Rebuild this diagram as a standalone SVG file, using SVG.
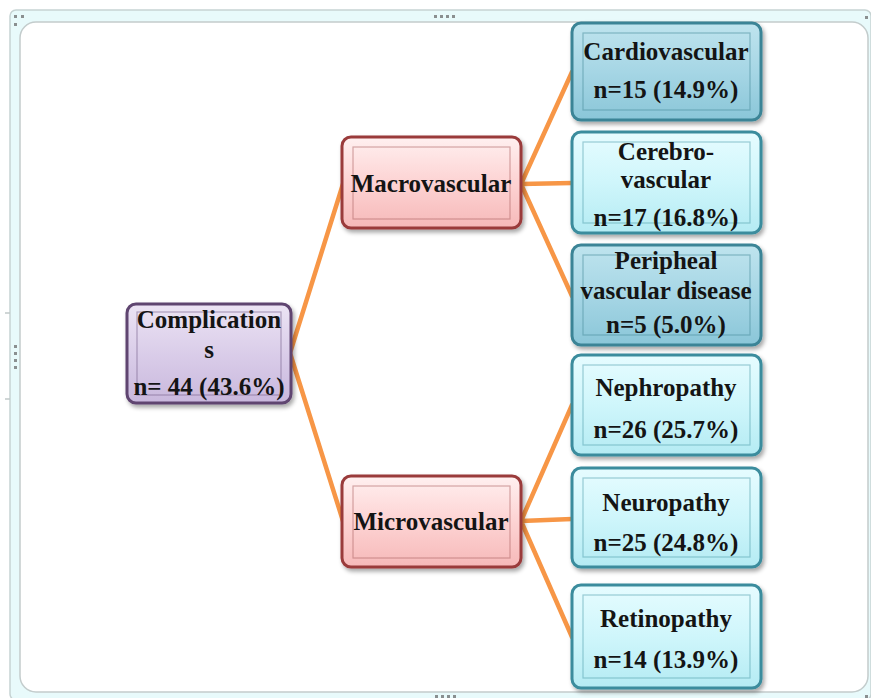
<svg xmlns="http://www.w3.org/2000/svg" width="871" height="698" viewBox="0 0 871 698">
<defs>
<linearGradient id="gPurple" x1="0" y1="0" x2="0" y2="1"><stop offset="0" stop-color="#ece4f4"/><stop offset="0.5" stop-color="#dacde9"/><stop offset="1" stop-color="#c9b8dd"/></linearGradient>
<linearGradient id="gPink" x1="0" y1="0" x2="0" y2="1"><stop offset="0" stop-color="#fff0f0"/><stop offset="0.5" stop-color="#fdd3d3"/><stop offset="1" stop-color="#f6b9b9"/></linearGradient>
<linearGradient id="gBlue" x1="0" y1="0" x2="0" y2="1"><stop offset="0" stop-color="#bfe4ee"/><stop offset="0.5" stop-color="#a6d6e5"/><stop offset="1" stop-color="#8ac6d8"/></linearGradient>
<linearGradient id="gCyan" x1="0" y1="0" x2="0" y2="1"><stop offset="0" stop-color="#e6fcff"/><stop offset="0.5" stop-color="#cff6fb"/><stop offset="1" stop-color="#b4ebf3"/></linearGradient>
<filter id="sh" x="-10%" y="-10%" width="125%" height="130%"><feDropShadow dx="2" dy="3" stdDeviation="2" flood-color="#000" flood-opacity="0.35"/></filter>
</defs>
<style>
.t{font-family:"Liberation Serif","Times New Roman",serif;font-weight:bold;font-size:25px;fill:#141414;text-anchor:middle}
.box{stroke-width:3;filter:url(#sh)}
.pur{fill:url(#gPurple);stroke:#5e4470}
.pnk{fill:url(#gPink);stroke:#9a3b3b}
.blu{fill:url(#gBlue);stroke:#3b8496}
.cya{fill:url(#gCyan);stroke:#3b8c9d}
.inset{fill:none;stroke-width:1.2;opacity:0.55}
.dot{fill:#8a8f90}
.con{stroke:#f79646;stroke-width:4.5;fill:none;stroke-linecap:round}
</style>
<g id="frame">
<rect x="10" y="10" width="861" height="690" rx="6" fill="#e8fafb" stroke="#c6d3d3" stroke-width="1.5"/>
<rect x="20" y="22" width="848" height="670" rx="16" fill="#ffffff" stroke="#c3cccc" stroke-width="1.5"/>
<line x1="5" y1="313" x2="10" y2="313" stroke="#c0c8c8" stroke-width="1.5"/>
<line x1="5" y1="399" x2="10" y2="399" stroke="#c0c8c8" stroke-width="1.5"/>
<rect class="dot" x="14" y="15" width="3" height="3"/><rect class="dot" x="21" y="15" width="3" height="3"/><rect class="dot" x="14" y="23" width="3" height="3"/>
<rect class="dot" x="865" y="16" width="3" height="3"/><rect class="dot" x="865" y="695" width="3" height="3"/>
<rect class="dot" x="434" y="15" width="3" height="3"/><rect class="dot" x="440" y="15" width="3" height="3"/><rect class="dot" x="446" y="15" width="3" height="3"/><rect class="dot" x="452" y="15" width="3" height="3"/>
<rect class="dot" x="435" y="695" width="3" height="3"/><rect class="dot" x="441" y="695" width="3" height="3"/><rect class="dot" x="447" y="695" width="3" height="3"/><rect class="dot" x="453" y="695" width="3" height="3"/>
<rect class="dot" x="14" y="345" width="3" height="3"/><rect class="dot" x="14" y="352" width="3" height="3"/><rect class="dot" x="14" y="359" width="3" height="3"/><rect class="dot" x="14" y="366" width="3" height="3"/>
</g>
<g id="connectors">
<path class="con" d="M290 353 L343 184 M290 353 L343 521"/>
<path class="con" d="M521 184 L572 72 M521 184 L572 183 M521 184 L572 296"/>
<path class="con" d="M521 521 L572 405 M521 521 L572 519 M521 521 L572 637"/>
</g>
<g id="n-complications">
<rect class="box pur" x="127" y="304" width="164" height="99" rx="9"/>
<rect class="inset" x="137" y="312" width="144" height="83" stroke="#7a6690"/>
<text class="t" x="209" y="328">Complication</text>
<text class="t" x="209" y="358">s</text>
<text class="t" x="209" y="395">n= 44 (43.6%)</text>
</g>
<g id="n-macrovascular">
<rect class="box pnk" x="342" y="137" width="179" height="91" rx="9"/>
<rect class="inset" x="353" y="147" width="157" height="72" stroke="#b06a6a"/>
<text class="t" x="431" y="192">Macrovascular</text>
</g>
<g id="n-microvascular">
<rect class="box pnk" x="342" y="476" width="179" height="91" rx="9"/>
<rect class="inset" x="353" y="486" width="157" height="72" stroke="#b06a6a"/>
<text class="t" x="431" y="530">Microvascular</text>
</g>
<g id="n-cardiovascular">
<rect class="box blu" x="572" y="23" width="189" height="97" rx="9"/>
<rect class="inset" x="583" y="33" width="167" height="77" stroke="#4d8f9f"/>
<text class="t" x="666" y="60">Cardiovascular</text>
<text class="t" x="666" y="98">n=15 (14.9%)</text>
</g>
<g id="n-cerebrovascular">
<rect class="box cya" x="572" y="132" width="189" height="101" rx="9"/>
<rect class="inset" x="583" y="142" width="167" height="81" stroke="#5aa4b2"/>
<text class="t" x="666" y="160">Cerebro-</text>
<text class="t" x="666" y="188">vascular</text>
<text class="t" x="666" y="226">n=17 (16.8%)</text>
</g>
<g id="n-peripheal">
<rect class="box blu" x="572" y="245" width="189" height="100" rx="9"/>
<rect class="inset" x="583" y="255" width="167" height="80" stroke="#4d8f9f"/>
<text class="t" x="666" y="269">Peripheal</text>
<text class="t" x="666" y="299">vascular disease</text>
<text class="t" x="666" y="333">n=5 (5.0%)</text>
</g>
<g id="n-nephropathy">
<rect class="box cya" x="572" y="355" width="189" height="100" rx="9"/>
<rect class="inset" x="583" y="365" width="167" height="80" stroke="#5aa4b2"/>
<text class="t" x="666" y="396">Nephropathy</text>
<text class="t" x="666" y="438">n=26 (25.7%)</text>
</g>
<g id="n-neuropathy">
<rect class="box cya" x="572" y="468" width="189" height="99" rx="9"/>
<rect class="inset" x="583" y="478" width="167" height="79" stroke="#5aa4b2"/>
<text class="t" x="666" y="511">Neuropathy</text>
<text class="t" x="666" y="551">n=25 (24.8%)</text>
</g>
<g id="n-retinopathy">
<rect class="box cya" x="572" y="585" width="189" height="103" rx="9"/>
<rect class="inset" x="583" y="595" width="167" height="83" stroke="#5aa4b2"/>
<text class="t" x="666" y="627">Retinopathy</text>
<text class="t" x="666" y="668">n=14 (13.9%)</text>
</g>
</svg>
